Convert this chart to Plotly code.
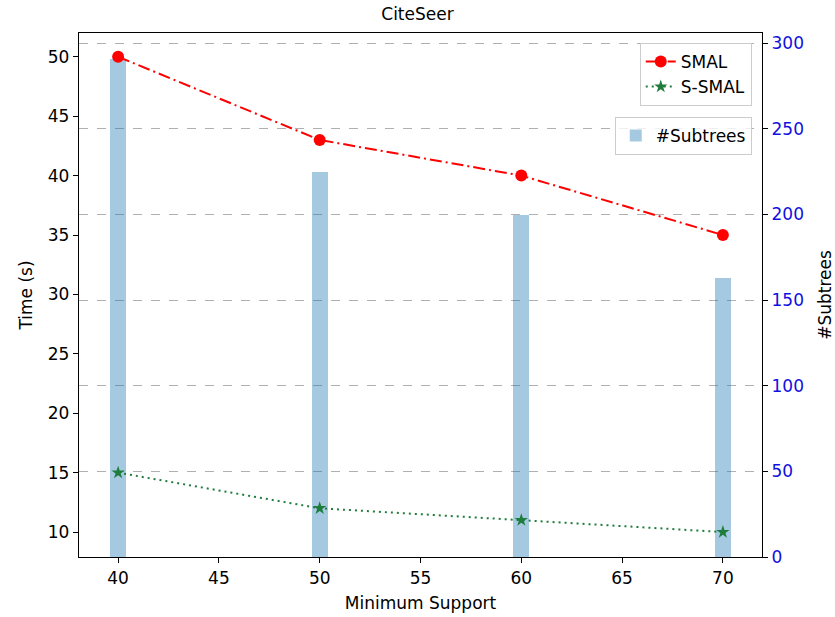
import plotly.graph_objects as go

# Minimum support thresholds (x axis)
min_support = [40, 50, 60, 70]

# Running time in seconds (left axis)
smal_time = [50, 43, 40, 35]
ssmal_time = [15, 12, 11, 10]

# Number of frequent subtrees found (right axis)
subtrees = [291, 225, 200, 163]

FONT = "DejaVu Sans"
FS = 17

fig = go.Figure()

# Bars sit on the primary (right-hand) axis so the lines overlay them
fig.add_trace(go.Bar(
    x=min_support, y=subtrees, width=0.8,
    name="#Subtrees",
    marker=dict(color="rgba(31,119,180,0.4)", line=dict(width=0)),
    yaxis="y", legend="legend2",
))

fig.add_trace(go.Scatter(
    x=min_support, y=smal_time, name="SMAL",
    mode="lines+markers",
    line=dict(color="#ff0000", width=2, dash="12px,4px,2px,4px"),
    marker=dict(symbol="circle", size=12, color="#ff0000"),
    yaxis="y2", legend="legend",
))

fig.add_trace(go.Scatter(
    x=min_support, y=ssmal_time, name="S-SMAL",
    mode="lines+markers",
    line=dict(color="#1e7d3c", width=2, dash="2px,4px"),
    marker=dict(symbol="star", size=10, color="#1e7d3c"),
    yaxis="y2", legend="legend",
))

axis_common = dict(
    showline=True, linecolor="black", linewidth=1.3,
    ticks="outside", ticklen=5, tickwidth=1, tickcolor="black",
    zeroline=False, automargin=False,
)
title_font = dict(family=FONT, size=FS, color="black")

fig.update_layout(
    width=835, height=617,
    margin=dict(l=79, r=73, t=33, b=60),
    paper_bgcolor="white", plot_bgcolor="white",
    font=dict(family=FONT, size=FS, color="black"),
    title=dict(text="CiteSeer", x=0.5, xanchor="center", y=0.978, yanchor="middle",
               font=title_font),
    showlegend=True,
    bargap=0,
    xaxis=dict(
        range=[38.06, 71.94], tickvals=[40, 45, 50, 55, 60, 65, 70],
        mirror=True, showgrid=False,
        title=dict(text="Minimum Support", standoff=10, font=title_font),
        tickfont=dict(size=FS), **axis_common,
    ),
    yaxis=dict(
        side="right", range=[0, 306], tickvals=[0, 50, 100, 150, 200, 250, 300],
        tickfont=dict(size=FS, color="#1010e0"),
        showgrid=True, gridcolor="#b0b0b0", griddash="dash", gridwidth=1,
        title=dict(text="#Subtrees", standoff=18, font=title_font),
        **axis_common,
    ),
    yaxis2=dict(
        side="left", overlaying="y", range=[7.9, 52.0],
        tickvals=[10, 15, 20, 25, 30, 35, 40, 45, 50],
        showgrid=False, tickfont=dict(size=FS),
        title=dict(text="Time (s)", standoff=10, font=title_font),
        **axis_common,
    ),
    legend=dict(
        x=0.985, y=0.981, xanchor="right", yanchor="top",
        bgcolor="rgba(255,255,255,0.8)", bordercolor="#cccccc", borderwidth=1,
        font=dict(size=FS), tracegroupgap=6,
    ),
    legend2=dict(
        x=0.985, y=0.840, xanchor="right", yanchor="top",
        bgcolor="rgba(255,255,255,0.8)", bordercolor="#cccccc", borderwidth=1,
        font=dict(size=FS),
    ),
)

fig.write_html("out.html")
